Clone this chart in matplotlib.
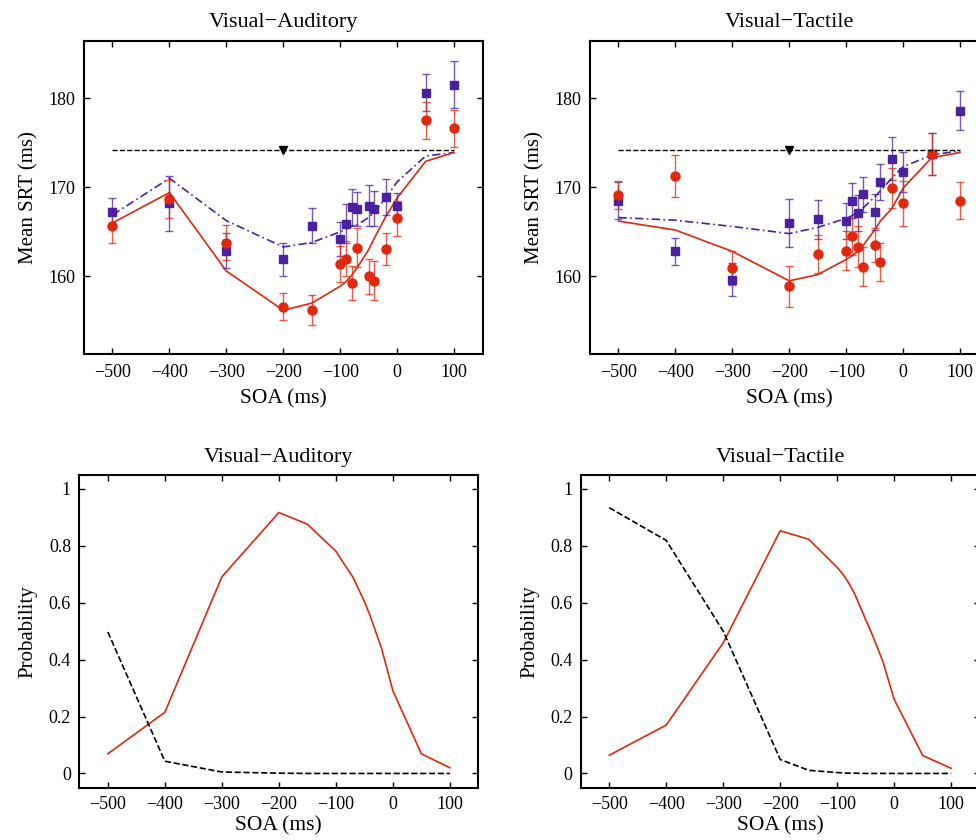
import numpy as np
import matplotlib.pyplot as plt
from matplotlib.ticker import FuncFormatter

plt.rcParams['font.family'] = ['Liberation Serif', 'DejaVu Serif']
plt.rcParams['axes.unicode_minus'] = True

################################################################################
# Data
soa = [-500, -400, -300, -200, -150, -100, -90, -80, -70, -50, -40, -20, 0, 50, 100]

# Visual-Auditory, mean SRT
va_red     = [165.7, 168.7, 163.8, 156.6, 156.2, 161.4, 162.0, 159.3, 163.2, 160.0, 159.5, 163.1, 166.5, 177.5, 176.6]
va_red_err = [1.95, 2.1, 2.0, 1.5, 1.7, 2.0, 2.0, 1.9, 2.2, 2.0, 2.2, 1.8, 2.0, 2.05, 2.1]
va_blu     = [167.2, 168.2, 162.9, 161.9, 165.7, 164.2, 165.9, 167.8, 167.6, 167.9, 167.6, 168.9, 167.9, 180.6, 181.5]
va_blu_err = [1.6, 3.1, 2.0, 1.9, 1.95, 1.9, 2.2, 2.0, 1.9, 2.3, 2.0, 2.0, 1.45, 2.05, 2.65]
va_red_fit = [166.0, 169.4, 160.6, 156.2, 157.0, 158.9, 159.4, 160.1, 161.0, 163.0, 164.3, 166.7, 168.8, 172.9, 173.9]
va_blu_fit = [166.9, 171.0, 166.25, 163.3, 163.8, 165.0, 165.3, 165.6, 165.8, 166.6, 167.2, 168.8, 170.6, 173.5, 173.9]

# Visual-Tactile, mean SRT
vt_red     = [169.1, 171.3, 160.9, 158.9, 162.5, 162.9, 164.5, 163.3, 161.1, 163.5, 161.6, 169.9, 168.2, 173.7, 168.5]
vt_red_err = [1.55, 2.35, 1.9, 2.3, 2.1, 2.15, 2.1, 2.3, 2.2, 1.9, 2.1, 2.25, 2.55, 2.35, 2.1]
vt_blu     = [168.5, 162.8, 159.6, 166.0, 166.4, 166.2, 168.5, 167.1, 169.2, 167.2, 170.6, 173.2, 171.7, 173.7, 178.6]
vt_blu_err = [2.05, 1.55, 1.85, 2.7, 2.2, 2.0, 2.0, 2.05, 2.0, 2.05, 2.0, 2.4, 2.25, 2.35, 2.15]
vt_red_fit = [166.2, 165.2, 162.8, 159.5, 160.2, 161.9, 162.3, 162.8, 163.5, 165.2, 166.2, 167.6, 169.9, 173.3, 173.9]
vt_blu_fit = [166.6, 166.3, 165.6, 164.8, 165.5, 166.5, 166.8, 167.2, 167.7, 168.9, 169.6, 171.0, 172.3, 173.6, 174.1]

unimodal = 174.2
unimodal_soa = -200

# Probabilities
va_p_red   = [0.069, 0.215, 0.691, 0.917, 0.876, 0.781, 0.75, 0.72, 0.69, 0.605, 0.555, 0.441, 0.291, 0.069, 0.02]
va_p_black = [0.497, 0.043, 0.005, 0.001, 0.0, 0.0, 0.0, 0.0, 0.0, 0.0, 0.0, 0.0, 0.0, 0.0, 0.0]
vt_p_red   = [0.064, 0.17, 0.459, 0.853, 0.823, 0.724, 0.70, 0.67, 0.634, 0.54, 0.495, 0.394, 0.26, 0.063, 0.018]
vt_p_black = [0.934, 0.819, 0.50, 0.049, 0.011, 0.003, 0.002, 0.001, 0.001, 0.0, 0.0, 0.0, 0.0, 0.0, 0.0]

red  = '#e0280f'
blue = '#4a22a0'

################################################################################
fig = plt.figure(figsize=(9.76, 8.4), dpi=100)

ax_tl = fig.add_axes([0.0861, 0.5786, 0.4083, 0.3726])
ax_tr = fig.add_axes([0.6045, 0.5786, 0.4083, 0.3726])
ax_bl = fig.add_axes([0.0813, 0.0623, 0.4088, 0.3726])
ax_br = fig.add_axes([0.5950, 0.0623, 0.4088, 0.3726])


def style(ax, xpad, labelpad):
    ax.set_xlim(-550, 150)
    ax.set_xticks([-500, -400, -300, -200, -100, 0, 100])
    ax.tick_params(direction='in', top=True, right=True, length=4, width=1, labelsize=13, pad=6)
    ax.tick_params(axis='x', pad=xpad)
    for s in ax.spines.values():
        s.set_linewidth(1.5)
    ax.set_xlabel('SOA (ms)', fontsize=15.5, labelpad=labelpad)


def srt_panel(ax, title, red_pts, red_err, blu_pts, blu_err, red_fit, blu_fit):
    ax.plot(soa, blu_fit, color=blue, lw=1.2, ls=(0, (5, 2, 1, 2)))
    ax.plot(soa, red_fit, color=red, lw=1.2)
    ax.errorbar(soa, blu_pts, yerr=blu_err, fmt='none', ecolor=blue, alpha=0.75, capsize=3, elinewidth=1)
    ax.errorbar(soa, red_pts, yerr=red_err, fmt='none', ecolor=red, alpha=0.75, capsize=3, elinewidth=1)
    ax.plot(soa, blu_pts, 's', color=blue, ms=5.5, ls='none')
    ax.plot(soa, red_pts, 'o', color=red, ms=6.5, ls='none')
    ax.plot([soa[0], soa[-1]], [unimodal, unimodal], 'k--', lw=1.0)
    ax.plot([unimodal_soa], [unimodal], 'kv', ms=6)
    ax.set_ylim(151.3, 186.4)
    ax.set_yticks([160, 170, 180])
    ax.set_ylabel('Mean SRT (ms)', fontsize=15, labelpad=7)
    ax.set_title(title, fontsize=16, pad=10)
    style(ax, 7.5, 6)


def prob_panel(ax, title, p_red, p_black):
    ax.plot(soa, p_red, color=red, lw=1.2)
    ax.plot(soa, p_black, 'k--', lw=1.2)
    ax.set_ylim(-0.05, 1.05)
    ax.set_yticks([0, 0.2, 0.4, 0.6, 0.8, 1])
    ax.yaxis.set_major_formatter(FuncFormatter(lambda v, p: '%g' % round(v, 1)))
    ax.set_ylabel('Probability', fontsize=15, labelpad=8)
    ax.set_title(title, fontsize=16, pad=9)
    style(ax, 6, 2.5)


srt_panel(ax_tl, 'Visual\u2212Auditory', va_red, va_red_err, va_blu, va_blu_err, va_red_fit, va_blu_fit)
srt_panel(ax_tr, 'Visual\u2212Tactile', vt_red, vt_red_err, vt_blu, vt_blu_err, vt_red_fit, vt_blu_fit)
prob_panel(ax_bl, 'Visual\u2212Auditory', va_p_red, va_p_black)
prob_panel(ax_br, 'Visual\u2212Tactile', vt_p_red, vt_p_black)

fig.savefig('out.png', dpi=100)
